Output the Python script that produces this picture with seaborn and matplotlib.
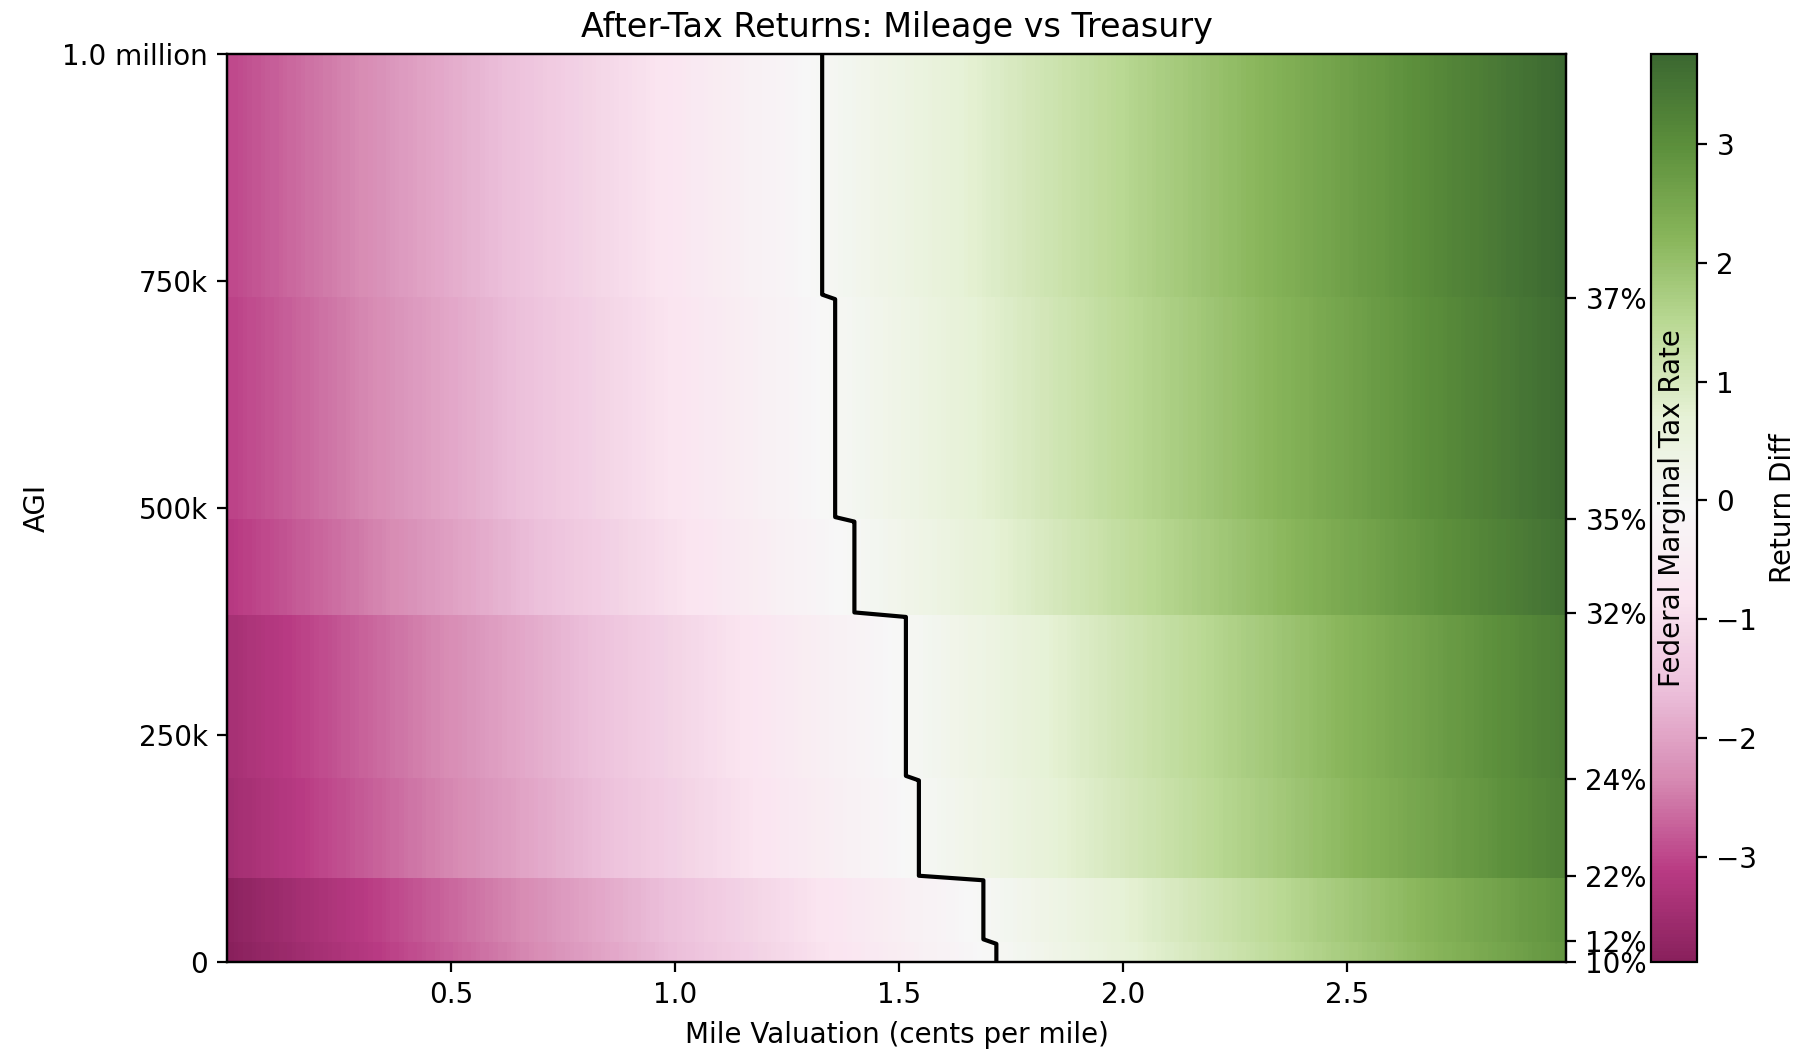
import numpy as np
import matplotlib
matplotlib.use("Agg")
import matplotlib.pyplot as plt
from matplotlib.colors import ListedColormap
from matplotlib.ticker import FuncFormatter
import seaborn as sns

# ---- data ----
bracket_start = [0, 23200, 94300, 201050, 383900, 487450, 731200]   # AGI where each bracket begins
bracket_rate = [10, 12, 22, 24, 32, 35, 37]                          # federal marginal rate, %
breakeven_cpm = [1.718, 1.689, 1.545, 1.516, 1.401, 1.358, 1.329]    # mile value where diff = 0
diff_per_cent = 2.263                                                # return diff per cent/mile
mile_values = np.round(np.arange(0.0, 3.0, 0.01), 2)                 # cents per mile
agi_values = np.linspace(0, 1_000_000, 201)
agi_ticks = [0, 250_000, 500_000, 750_000, 1_000_000]
mile_ticks = [0.5, 1.0, 1.5, 2.0, 2.5]

# ---- field ----
idx = np.searchsorted(bracket_start, agi_values, side="right") - 1
be = np.array(breakeven_cpm)[idx]
Z = diff_per_cent * (mile_values[None, :] - be[:, None])

sns.set_style("ticks", {"axes.edgecolor": "black", "xtick.color": "black",
                        "ytick.color": "black", "text.color": "black",
                        "axes.labelcolor": "black"})
plt.rcParams["font.family"] = ["DejaVu Sans"]
plt.rcParams["font.size"] = 10

cmap = ListedColormap(sns.color_palette("PiYG", 256, desat=0.8))

fig = plt.figure(figsize=(9.01, 5.30), dpi=200)
W, H = 1802, 1060
ax = fig.add_axes([227 / W, 98 / H, 1339 / W, 908 / H])
cax = fig.add_axes([1651 / W, 98 / H, 46 / W, 908 / H])

mesh = ax.pcolormesh(mile_values, agi_values, Z, cmap=cmap, shading="nearest", alpha=0.93)
ax.contour(mile_values, agi_values, Z, levels=[0], colors="black", linewidths=1.5)
ax.set_xlim(mile_values[0], mile_values[-1])
ax.set_ylim(0, 1_000_000)
ax.set_xticks(mile_ticks)
ax.set_yticks(agi_ticks)


def agi_fmt(v, pos):
    if v >= 1e6:
        return f"{v / 1e6:.1f} million"
    if v == 0:
        return "0"
    return f"{v / 1e3:.0f}k"


ax.yaxis.set_major_formatter(FuncFormatter(agi_fmt))
ax.set_xlabel("Mile Valuation (cents per mile)")
ax.set_ylabel("AGI")
ax.set_title("After-Tax Returns: Mileage vs Treasury", fontsize=12)

ax2 = ax.twinx()
ax2.set_ylim(ax.get_ylim())
ax2.set_yticks(bracket_start)
ax2.set_yticklabels([f"{r}%" for r in bracket_rate])
ax2.set_ylabel("Federal Marginal Tax Rate")

cb = fig.colorbar(mesh, cax=cax)
cb.set_label("Return Diff")

fig.savefig("out.png", dpi=200)
